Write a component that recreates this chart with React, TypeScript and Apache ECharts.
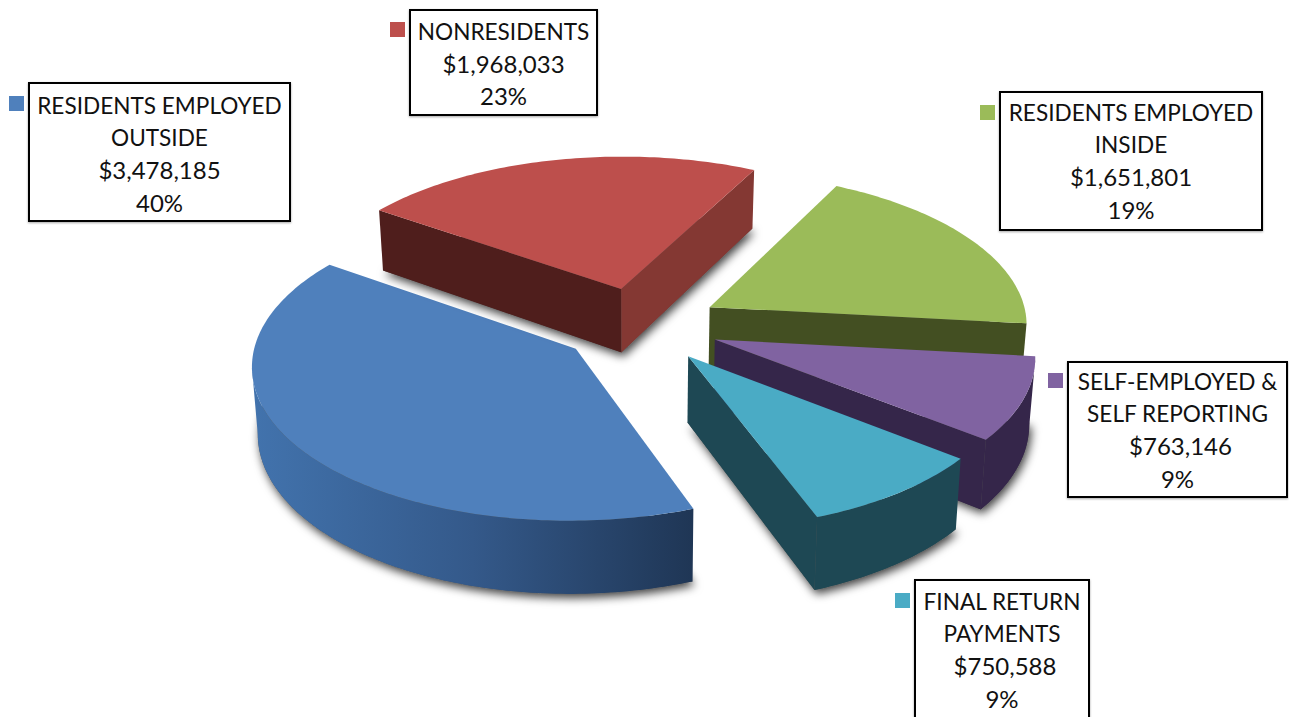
import React, { useEffect, useRef } from "react";
import * as echarts from "echarts";

// Earnings-tax collections by source
const sources = [
  ["RESIDENTS EMPLOYED", "OUTSIDE"],
  ["NONRESIDENTS"],
  ["RESIDENTS EMPLOYED", "INSIDE"],
  ["SELF-EMPLOYED &", "SELF REPORTING"],
  ["FINAL RETURN", "PAYMENTS"],
];
const amounts = [3478185, 1968033, 1651801, 763146, 750588];
const topColors = ["#4f80bc", "#bd4f4c", "#9bbb59", "#8063a1", "#4aabc5"];
const startWallColors = ["#1f3655", "#4f1e1c", "#434f22", "#35264a", "#1e4854"];
const endWallColors = ["#1f3655", "#843833", "#434f22", "#35264a", "#1e4854"];
const arcWallStops = [
  ["#1f3655", "#34598a", "#4273ad"],
  ["#843833", "#843833", "#843833"],
  ["#434f22", "#434f22", "#434f22"],
  ["#35264a", "#35264a", "#35264a"],
  ["#1e4854", "#1e4854", "#1e4854"],
];
const sliceScale = [0.99, 1, 0.995, 0.985, 0.985];

// Callout boxes: [left, top, right, bottom], colour key's left and top, first line's centre y
const boxes = [
  [29, 83, 290, 221, 9, 96, 105],
  [410, 10, 597, 115, 390, 22, 31],
  [1000, 92, 1262, 230, 980, 105, 112],
  [1068, 362, 1287, 497, 1048, 373, 381],
  [915, 580, 1089, 730, 895, 593, 601],
];
const amountShift = [0, 0, 0, 3, 3];

// Ground-plane projection of the exploded disc
const CX = 640;
const CY = 325;
const RADIUS = 320;
const FORESHORTEN = 0.475;
const PERSPECTIVE = 0.098;
const THICKNESS = 65;
const EXPLODE = 0.25;
const START_DEG = 159.5;
const LINE_HEIGHT = 32.4;

const total = amounts.reduce((a, b) => a + b, 0);

function project(gx: number, gy: number, down: number): number[] {
  const s = 1 / (1 + PERSPECTIVE * gy);
  const inset = down ? 0.985 : 1;
  return [
    CX + s * gx * RADIUS * inset,
    CY - s * gy * RADIUS * FORESHORTEN + down * s * THICKNESS,
  ];
}

// Builds the top face and the visible side walls of one slice
function sliceShapes(index: number, value: number) {
  const before = amounts.slice(0, index).reduce((a, b) => a + b, 0);
  const a0 = START_DEG + (before / total) * 360;
  const a1 = a0 + (value / total) * 360;
  const mid = ((a0 + a1) / 2) * (Math.PI / 180);
  const ox = EXPLODE * Math.sin(mid);
  const oy = EXPLODE * Math.cos(mid);
  const r = sliceScale[index];

  const ground: number[][] = [[ox, oy]];
  const steps = Math.ceil(a1 - a0);
  for (let i = 0; i <= steps; i++) {
    const t = (a0 + ((a1 - a0) * i) / steps) * (Math.PI / 180);
    ground.push([ox + r * Math.sin(t), oy + r * Math.cos(t)]);
  }
  const top = ground.map((g) => project(g[0], g[1], 0));
  const bottom = ground.map((g) => project(g[0], g[1], 1));

  const quad = (a: number, b: number) => [top[a], top[b], bottom[b], bottom[a]];
  const n = ground.length;

  // Walls whose top edge runs right-to-left on a clockwise outline face the viewer
  const arcFront: number[] = [];
  for (let i = 1; i < n - 1; i++) if (top[i + 1][0] < top[i][0]) arcFront.push(i);

  const walls: any[] = [];
  if (top[1][0] < top[0][0]) {
    walls.push({ points: quad(0, 1), fill: startWallColors[index] });
  }
  if (top[0][0] < top[n - 1][0]) {
    walls.push({ points: quad(n - 1, 0), fill: endWallColors[index] });
  }
  if (arcFront.length) {
    const from = arcFront[0];
    const to = arcFront[arcFront.length - 1] + 1;
    const points: number[][] = [];
    for (let i = from; i <= to; i++) points.push(top[i]);
    for (let i = to; i >= from; i--) points.push(bottom[i]);
    const stops = arcWallStops[index];
    walls.push({
      points,
      fill: {
        type: "linear",
        x: 1,
        y: 0,
        x2: 0,
        y2: 0,
        colorStops: [
          { offset: 0, color: stops[0] },
          { offset: 0.5, color: stops[1] },
          { offset: 1, color: stops[2] },
        ],
      },
    });
  }
  return { top, bottom, walls };
}

const renderSlice = (params: any, api: any) => {
  const index = params.dataIndex;
  const { top, bottom, walls } = sliceShapes(index, api.value(0));
  return {
    type: "group",
    children: [
      {
        type: "polygon",
        shape: { points: bottom },
        style: {
          fill: "#555",
          shadowBlur: 10,
          shadowColor: "rgba(0,0,0,0.75)",
          shadowOffsetX: 2,
          shadowOffsetY: 4,
        },
      },
      ...walls.map((w) => ({
        type: "polygon",
        shape: { points: w.points },
        style: { fill: w.fill },
      })),
      {
        type: "polygon",
        shape: { points: top },
        style: { fill: topColors[index] },
      },
    ],
  };
};

const money = (v: number) => "$" + v.toLocaleString("en-US");
const share = (v: number) => Math.round((v / total) * 100) + "%";

function calloutElements(): any[] {
  const out: any[] = [];
  sources.forEach((nameLines, i) => {
    const [l, t, r, b, kx, ky, firstY] = boxes[i];
    const mid = (l + r) / 2;
    out.push({
      type: "rect",
      shape: { x: l, y: t, width: r - l, height: b - t },
      style: {
        fill: "#fff",
        stroke: "#000",
        lineWidth: 2,
        shadowBlur: 2,
        shadowColor: "rgba(0,0,0,0.35)",
        shadowOffsetY: 1,
      },
      z: 10,
    });
    out.push({
      type: "rect",
      shape: { x: kx, y: ky, width: 15, height: 15 },
      style: { fill: topColors[i] },
      z: 10,
    });
    const lines = [
      { text: nameLines, size: 22.6, dx: 0 },
      { text: [money(amounts[i])], size: 24, dx: amountShift[i] },
      { text: [share(amounts[i])], size: 24, dx: 0 },
    ];
    let row = 0;
    lines.forEach((group) => {
      group.text.forEach((text) => {
        out.push({
          type: "text",
          x: mid + group.dx,
          y: firstY + row * LINE_HEIGHT,
          style: {
            text,
            font: `${group.size}px Lato, "Open Sans", sans-serif`,
            fill: "#111",
            align: "center",
            verticalAlign: "middle",
          },
          z: 11,
        });
        row += 1;
      });
    });
  });
  return out;
}

export default function App() {
  const ref = useRef<HTMLDivElement>(null);
  useEffect(() => {
    const chart = echarts.init(ref.current!, undefined, { renderer: "svg" });
    chart.setOption({
      animation: false,
      backgroundColor: "#fff",
      graphic: { elements: calloutElements() },
      series: [
        {
          type: "custom",
          coordinateSystem: "none",
          clip: false,
          silent: true,
          data: amounts.map((v, i) => ({ name: sources[i].join(" "), value: [v] })),
          renderItem: renderSlice,
        },
      ],
    });
    return () => chart.dispose();
  }, []);
  return (
    <div
      ref={ref}
      style={{ position: "fixed", left: 0, top: 0, width: 1289, height: 717 }}
    />
  );
}
